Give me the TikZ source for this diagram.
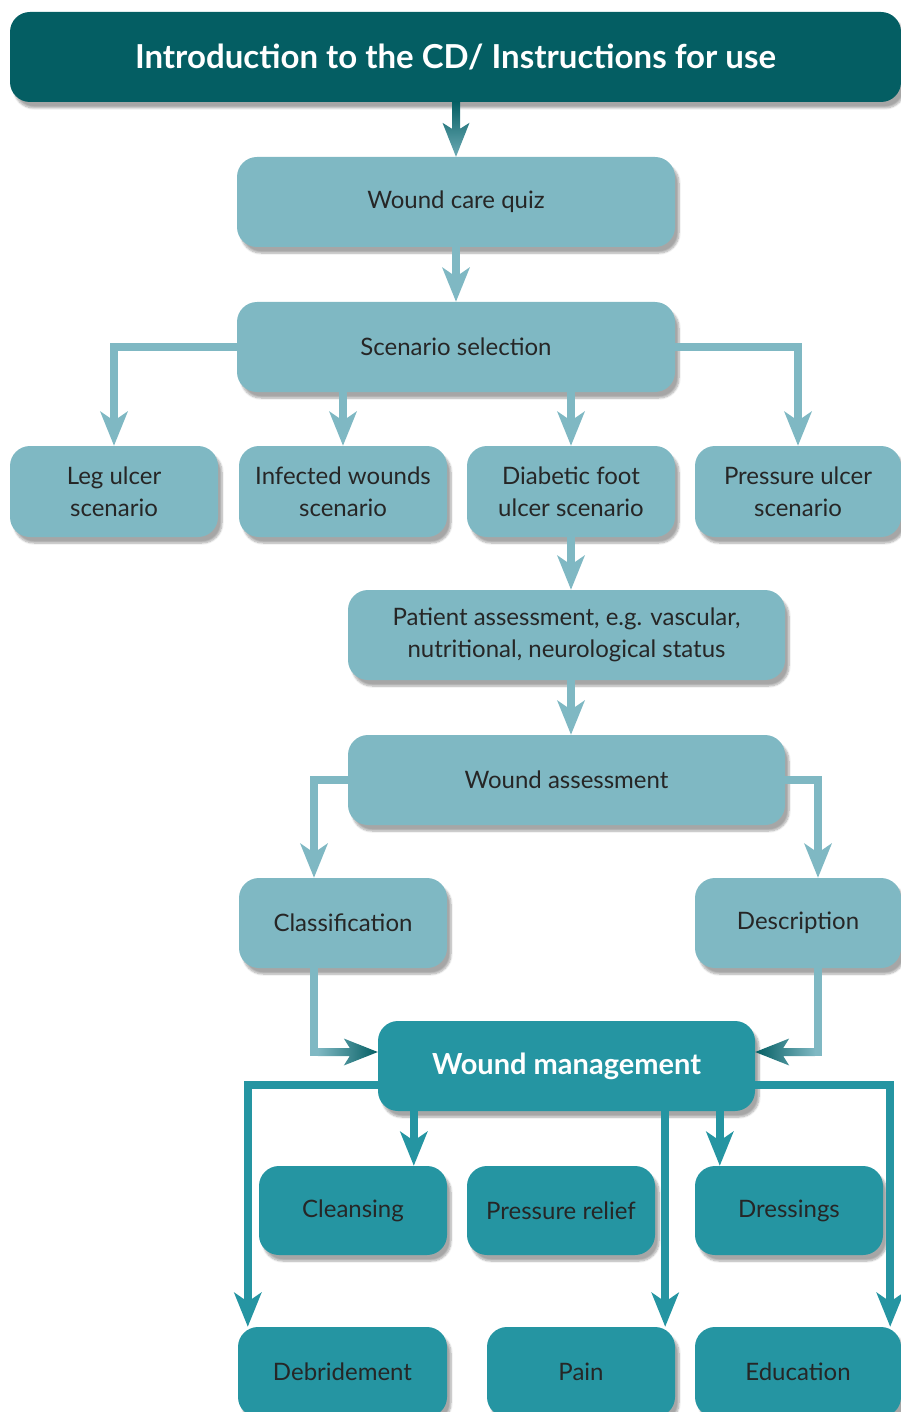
\documentclass[tikz,border=0pt]{standalone}
\usepackage{fontspec}
\setmainfont{Lato}
\usetikzlibrary{arrows.meta,calc,shadows.blur}
\definecolor{introteal}{HTML}{045E63}
\definecolor{paleteal}{HTML}{7FB8C3}
\definecolor{midteal}{HTML}{2595A2}
\definecolor{boxtext}{HTML}{262626}

\begin{document}
\begin{tikzpicture}[x=1pt, y=-1pt,
  box/.style={rounded corners=20pt, minimum height=90pt, inner sep=0pt, align=center,
    text=boxtext, font=\fontsize{24}{32}\selectfont,
    blur shadow={shadow xshift=4pt, shadow yshift=-6pt, shadow opacity=35, shadow blur steps=8}},
  pale/.style={box, fill=paleteal},
  deep/.style={box, fill=midteal},
  conn/.style={line width=8pt, -{Stealth[length=34pt, width=27pt, inset=9pt]}}]
\useasboundingbox (0,0) rectangle (901,1412);

% boxes
\node[box, fill=introteal, minimum width=891pt, text=white, font=\bfseries\fontsize{33}{36}\selectfont] (intro) at (455.5,57) {Introduction to the CD/ Instructions for use};
\node[pale, minimum width=438pt] (quiz) at (456,202) {Wound care quiz};
\node[pale, minimum width=438pt] (sel) at (456,347) {Scenario selection};
\node[pale, minimum width=208pt, minimum height=91pt] (leg) at (114,491.5) {Leg ulcer\\scenario};
\node[pale, minimum width=208pt, minimum height=91pt] (inf) at (343,491.5) {Infected wounds\\scenario};
\node[pale, minimum width=208pt, minimum height=91pt] (dfu) at (571,491.5) {Diabetic foot\\ulcer scenario};
\node[pale, minimum width=206pt, minimum height=91pt] (pu) at (798,491.5) {Pressure ulcer\\scenario};
\node[pale, minimum width=437pt] (pat) at (566.5,635) {Patient assessment, e.g. vascular,\\nutritional, neurological status};
\node[pale, minimum width=437pt] (wa) at (566.5,780) {Wound assessment};
\node[pale, minimum width=208pt] (cls) at (343,923) {Classification};
\node[pale, minimum width=206pt] (desc) at (798,923) {Description};
\node[deep, minimum width=377pt, text=white, font=\bfseries\fontsize{29}{32}\selectfont] (wm) at (566.5,1066) {Wound management};
\node[deep, minimum width=188pt, minimum height=89pt] (cln) at (353,1210.5) {Cleansing};
\node[deep, minimum width=188pt, minimum height=89pt] (pr) at (561,1210.5) {Pressure relief};
\node[deep, minimum width=188pt, minimum height=89pt] (drs) at (789,1210.5) {Dressings};
\node[deep, minimum width=209pt] (deb) at (342.5,1372) {Debridement};
\node[deep, minimum width=188pt] (pain) at (581,1372) {Pain};
\node[deep, minimum width=206pt] (edu) at (798,1372) {Education};

% where the connectors meet the boxes
\coordinate (clsX) at ([xshift=-29pt]cls.south);
\coordinate (descX) at ([xshift=20pt]desc.south);
\coordinate (clsTip) at ([yshift=14pt]wm.west);
\coordinate (descTip) at ([yshift=14pt]wm.east);
\coordinate (wmL) at ([yshift=-19pt]wm.west);
\coordinate (wmR) at ([yshift=-19pt]wm.east);
\coordinate (clnX) at ([xshift=36pt]wm.south west);
\coordinate (painX) at ([xshift=-10pt]pain.north east);
\coordinate (drsX) at ([xshift=25pt]drs.north west);

% top arrow, dark to pale
\shade[top color=introteal, bottom color=paleteal!85!introteal]
  ($(quiz.north)+(-4,-55)$) -- ($(quiz.north)+(-4,-28)$) -- ($(quiz.north)+(-13.5,-34)$) -- (quiz.north)
  -- ($(quiz.north)+(13.5,-34)$) -- ($(quiz.north)+(4,-28)$) -- ($(quiz.north)+(4,-55)$) -- cycle;

% pale connectors
\draw[conn, paleteal] (quiz) -- (sel);
\draw[conn, paleteal] (sel.west) -| (leg);
\draw[conn, paleteal] (sel.south -| inf) -- (inf);
\draw[conn, paleteal] (sel.south -| dfu) -- (dfu);
\draw[conn, paleteal] (sel.east) -| (pu);
\draw[conn, paleteal] (dfu) -- (dfu |- pat.north);
\draw[conn, paleteal] (pat.south -| dfu) -- (wa.north -| dfu);
\draw[conn, paleteal] (wa.west) -| (clsX |- cls.north);
\draw[conn, paleteal] (wa.east) -| (descX |- desc.north);

% into wound management, pale to dark
\draw[line width=8pt, paleteal] (clsX) |- ($(clsTip)+(-58,0)$);
\shade[left color=paleteal, right color=introteal]
  ($(clsTip)+(-60,-4)$) -- ($(clsTip)+(-28,-4)$) -- ($(clsTip)+(-34,-13.5)$) -- (clsTip)
  -- ($(clsTip)+(-34,13.5)$) -- ($(clsTip)+(-28,4)$) -- ($(clsTip)+(-60,4)$) -- cycle;
\draw[line width=8pt, paleteal] (descX) |- ($(descTip)+(58,0)$);
\shade[right color=paleteal, left color=introteal]
  ($(descTip)+(60,-4)$) -- ($(descTip)+(28,-4)$) -- ($(descTip)+(34,-13.5)$) -- (descTip)
  -- ($(descTip)+(34,13.5)$) -- ($(descTip)+(28,4)$) -- ($(descTip)+(60,4)$) -- cycle;

% out of wound management
\draw[conn, midteal] (wmL) -| ([xshift=10pt]deb.north west);
\draw[conn, midteal] (clnX) -- (clnX |- cln.north);
\draw[conn, midteal] (painX |- wm.south) -- (painX);
\draw[conn, midteal] (drsX |- wm.south) -- (drsX);
\draw[conn, midteal] (wmR) -| ([xshift=-11pt]edu.north east);
\end{tikzpicture}
\end{document}
